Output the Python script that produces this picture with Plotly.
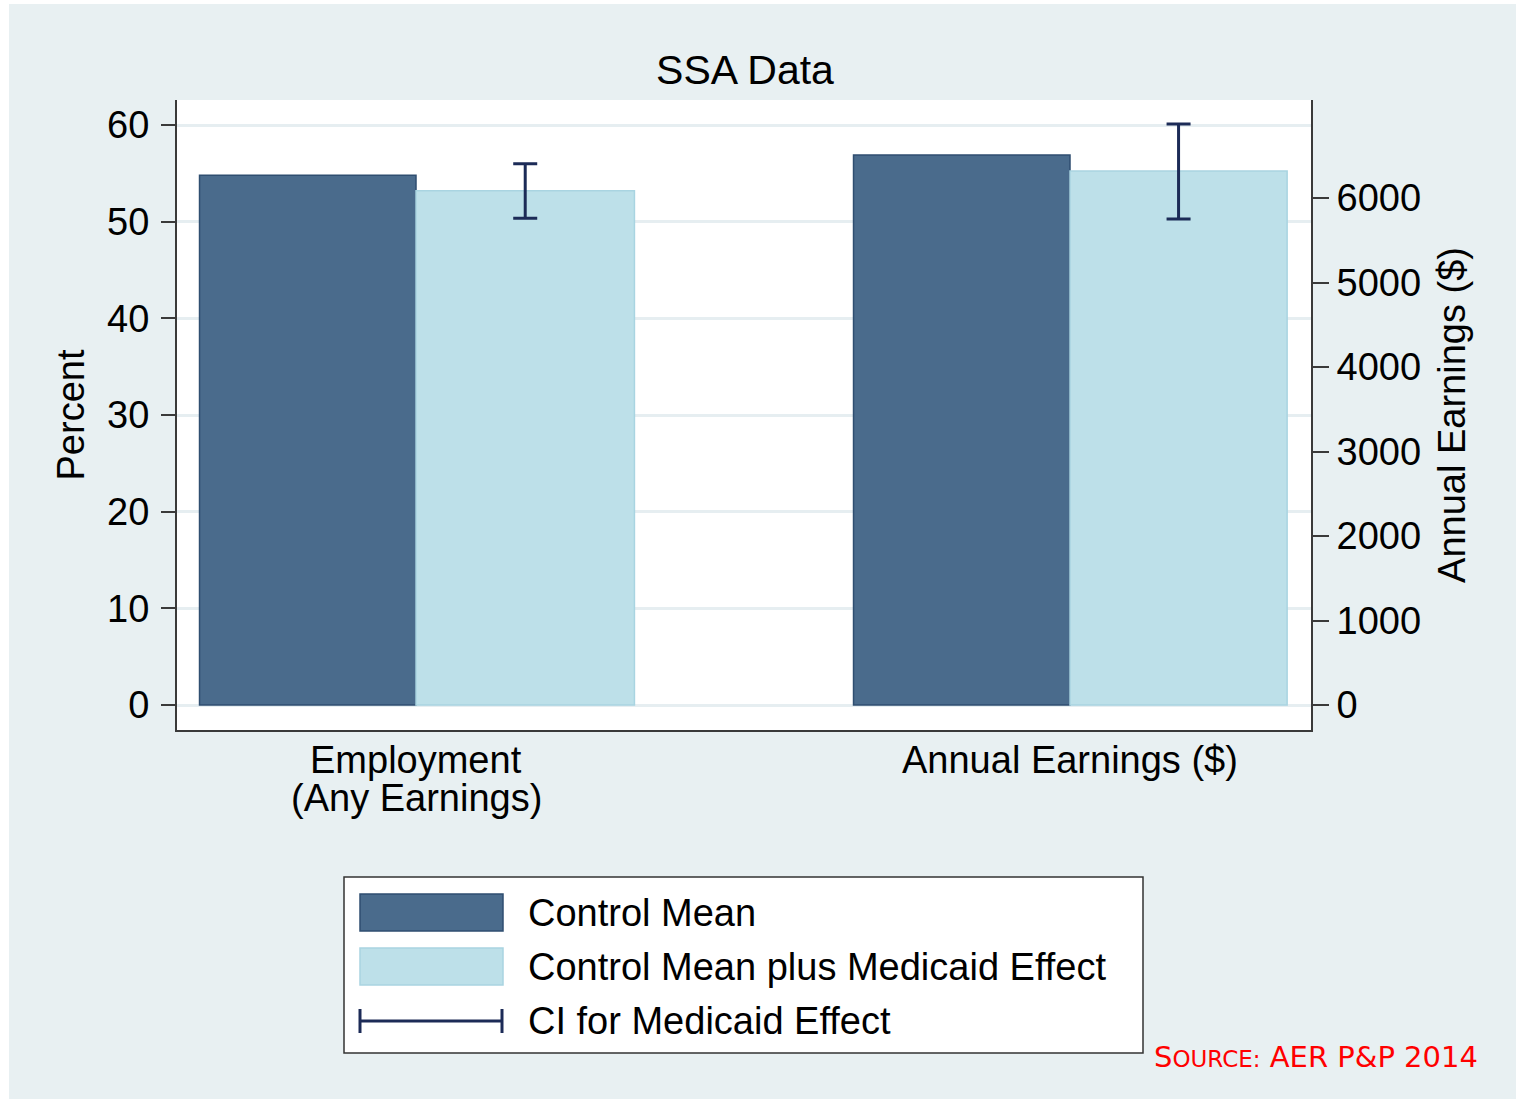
import plotly.graph_objects as go

# ---------------- data ----------------
categories = ["Employment<br>(Any Earnings)", "Annual Earnings ($)"]
series_names = ["Control Mean", "Control Mean plus Medicaid Effect", "CI for Medicaid Effect"]
control_mean = [54.8, 6510]
control_plus_effect = [53.2, 6320]
ci_lower = [50.35, 5750]
ci_upper = [56.0, 6875]
left_ticks = [0, 10, 20, 30, 40, 50, 60]
right_ticks = [0, 1000, 2000, 3000, 4000, 5000, 6000]
title_text = "SSA Data"
left_title = "Percent"
right_title = "Annual Earnings ($)"
source_text = 'S<span style="font-size:23px">OURCE:</span> AER P&amp;P 2014'

# ---------------- style ----------------
W, H = 1516, 1099
L, R, T, B = 177, 1311, 100, 730
BG = "#e8f0f2"
C_CTRL = "#4a6b8c"
C_CTRL_LINE = "#2f4e70"
C_TRT = "#bde0e9"
C_TRT_LINE = "#a9d4e1"
C_CI = "#1c2b57"
AX = "#3a3a3a"
FONT = "Liberation Sans, Arial, sans-serif"
FS = 38


def px(x):
    return (x - L) / (R - L)


def py(y):
    return (B - y) / (B - T)


fig = go.Figure()

# Employment (left axis)
fig.add_trace(go.Bar(
    x=[categories[0]], y=[control_mean[0]], name=series_names[0],
    width=0.331, offset=-0.331, marker=dict(color=C_CTRL, line=dict(color=C_CTRL_LINE, width=1.5)),
    yaxis="y", showlegend=False,
))
fig.add_trace(go.Bar(
    x=[categories[0]], y=[control_plus_effect[0]], name=series_names[1],
    width=0.334, offset=0, marker=dict(color=C_TRT, line=dict(color=C_TRT_LINE, width=1.5)),
    error_y=dict(type="data", symmetric=False,
                 array=[ci_upper[0] - control_plus_effect[0]],
                 arrayminus=[control_plus_effect[0] - ci_lower[0]],
                 color=C_CI, thickness=3, width=12),
    yaxis="y", showlegend=False,
))
# Annual earnings (right axis)
fig.add_trace(go.Bar(
    x=[categories[1]], y=[control_mean[1]], name=series_names[0],
    width=0.331, offset=-0.331, marker=dict(color=C_CTRL, line=dict(color=C_CTRL_LINE, width=1.5)),
    yaxis="y2", showlegend=False,
))
fig.add_trace(go.Bar(
    x=[categories[1]], y=[control_plus_effect[1]], name=series_names[1],
    width=0.332, offset=0, marker=dict(color=C_TRT, line=dict(color=C_TRT_LINE, width=1.5)),
    error_y=dict(type="data", symmetric=False,
                 array=[ci_upper[1] - control_plus_effect[1]],
                 arrayminus=[control_plus_effect[1] - ci_lower[1]],
                 color=C_CI, thickness=3, width=12),
    yaxis="y2", showlegend=False,
))

# left axis range: 0 at y=705, 60 at y=125
u_left = (705 - 125) / 60.0
u_right = (705 - 198) / 6000.0
left_range = [-(B - 705) / u_left, (705 - T) / u_left]
right_range = [-(B - 705) / u_right, (705 - T) / u_right]
cat_px = 654.0
x_range = [-(416 - L) / cat_px, 1 + (R - 1070) / cat_px]

shapes = []
annotations = []
# white strips at left / top edge of the image
shapes.append(dict(type="rect", xref="paper", yref="paper", x0=px(0), x1=px(9), y0=py(H), y1=py(0),
                   fillcolor="white", line=dict(width=0), layer="below"))
shapes.append(dict(type="rect", xref="paper", yref="paper", x0=px(0), x1=px(W), y0=py(4), y1=py(0),
                   fillcolor="white", line=dict(width=0), layer="below"))

# category labels (one annotation per line for tight Stata-like line spacing)
line_y = [760, 798]
for cat in categories:
    for i, part in enumerate(cat.split("<br>")):
        annotations.append(dict(text=part, xref="x", yref="paper", x=cat, y=py(line_y[i]),
                                xanchor="center", yanchor="middle", showarrow=False,
                                font=dict(family=FONT, size=FS, color="black")))

# manual legend box (Stata style)
shapes.append(dict(type="rect", xref="paper", yref="paper", x0=px(344), x1=px(1143), y0=py(1053), y1=py(877),
                   fillcolor="white", line=dict(color="#333333", width=1.5)))
shapes.append(dict(type="rect", xref="paper", yref="paper", x0=px(360), x1=px(503), y0=py(931), y1=py(894),
                   fillcolor=C_CTRL, line=dict(color=C_CTRL_LINE, width=1.5)))
shapes.append(dict(type="rect", xref="paper", yref="paper", x0=px(360), x1=px(503), y0=py(985), y1=py(948),
                   fillcolor=C_TRT, line=dict(color=C_TRT_LINE, width=1.5)))
shapes.append(dict(type="line", xref="paper", yref="paper", x0=px(359), x1=px(503), y0=py(1021), y1=py(1021),
                   line=dict(color=C_CI, width=3)))
for xx in (360, 502):
    shapes.append(dict(type="line", xref="paper", yref="paper", x0=px(xx), x1=px(xx), y0=py(1009), y1=py(1033),
                       line=dict(color=C_CI, width=3)))
for name, yy in zip(series_names, (913, 967, 1021)):
    annotations.append(dict(text=name, xref="paper", yref="paper", x=px(526), y=py(yy),
                            xanchor="left", yanchor="middle", showarrow=False,
                            font=dict(family=FONT, size=FS, color="black")))

annotations.append(dict(text=source_text, xref="paper", yref="paper", x=px(1152), y=py(1057),
                        xanchor="left", yanchor="middle", showarrow=False,
                        font=dict(family="DejaVu Sans, sans-serif", size=29, color="#ff0000")))

fig.update_layout(
    width=W, height=H,
    margin=dict(l=L, r=W - R, t=T, b=H - B, pad=0),
    paper_bgcolor=BG, plot_bgcolor="white",
    barmode="overlay",
    font=dict(family=FONT, size=FS, color="black"),
    title=dict(text=title_text, x=745 / W, xanchor="center", y=1 - 70 / H, yanchor="middle",
               xref="container", yref="container", font=dict(family=FONT, size=41, color="black")),
    xaxis=dict(type="category", range=x_range, showline=True, linecolor=AX, linewidth=2,
               ticks="", showgrid=False, showticklabels=False, fixedrange=True),
    yaxis=dict(range=left_range, tickvals=left_ticks, showline=True, linecolor=AX, linewidth=2,
               ticks="outside", ticklen=14, tickwidth=2, tickcolor=AX, ticklabelstandoff=4,
               showgrid=True, gridcolor="#e6eef1", gridwidth=3, zeroline=False,
               title=dict(text=left_title, standoff=11, font=dict(family=FONT, size=FS)),
               tickfont=dict(family=FONT, size=FS, color="black")),
    yaxis2=dict(range=right_range, tickvals=right_ticks, overlaying="y", side="right",
                showline=True, linecolor=AX, linewidth=2,
                ticks="outside", ticklen=16, tickwidth=2, tickcolor=AX, ticklabelstandoff=0,
                showgrid=False, zeroline=False,
                title=dict(text=right_title, standoff=18, font=dict(family=FONT, size=FS)),
                tickfont=dict(family=FONT, size=FS, color="black")),
    shapes=shapes,
    annotations=annotations,
)

fig.write_html("out.html", config={"displayModeBar": False},
               post_script="document.body.style.margin='0';document.body.style.overflow='hidden';")
